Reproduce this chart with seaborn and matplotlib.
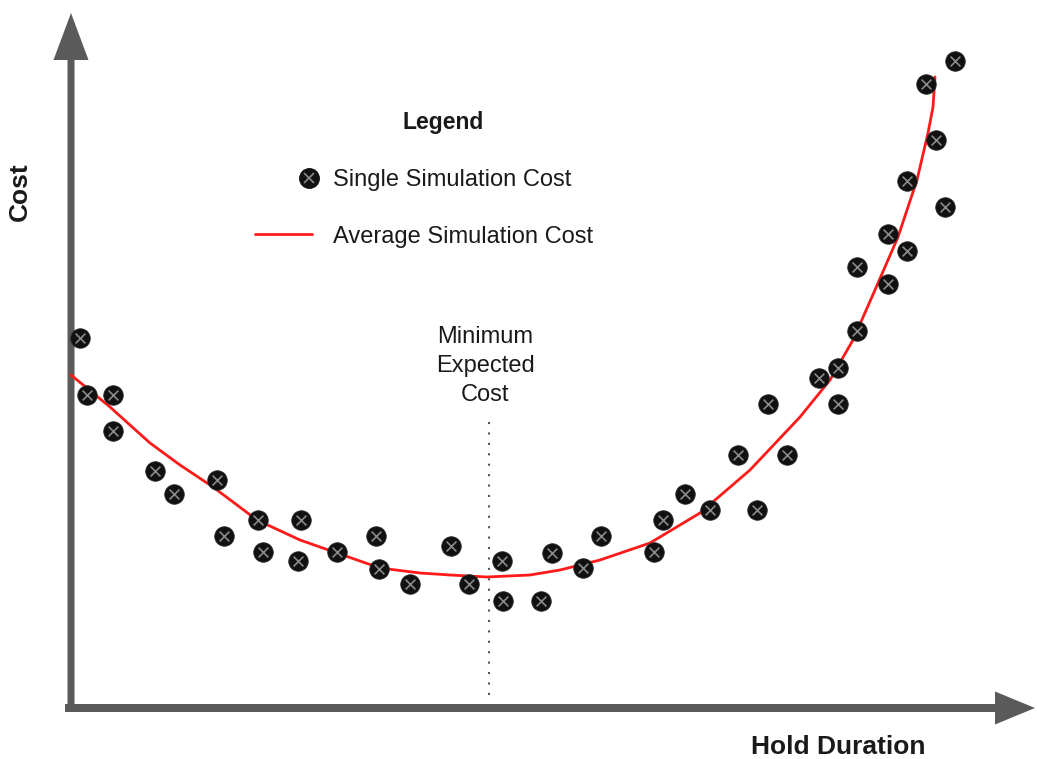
import matplotlib.pyplot as plt
import seaborn as sns
import pandas as pd
from matplotlib.lines import Line2D
from matplotlib.legend_handler import HandlerTuple, HandlerLine2D

# Einzelne Simulationen (Haltedauer, Kosten)
hold_single = [9, 16, 42, 42, 84, 103, 146, 153, 187, 192, 227, 230, 266, 305, 308,
               339, 380, 398, 431, 432, 470, 481, 512, 530, 583, 592, 614, 639, 667,
               686, 697, 716, 748, 767, 767, 786, 786, 817, 817, 836, 836, 855, 865,
               874, 884]
cost_single = [370, 313, 313, 277, 237, 214, 228, 172, 188, 156, 147, 188, 156, 172, 139,
               124, 162, 124, 147, 107, 107, 155, 140, 172, 156, 188, 214, 198, 253,
               198, 304, 253, 330, 340, 304, 377, 441, 424, 474, 457, 527, 624, 568,
               501, 647]

# Durchschnittskurve
hold_avg = [0, 39, 79, 109, 142, 186, 229, 266, 309, 349, 379, 416, 459, 489, 529,
            579, 629, 679, 729, 759, 782, 804, 827, 846, 857, 862, 864]
cost_avg = [333, 301, 265, 243, 221, 188, 168, 155, 140, 135, 133, 131, 133, 138, 148,
            165, 195, 238, 291, 328, 368, 418, 471, 528, 575, 601, 631]

# Minimum
min_hold = 418
min_cost_top = 286

df_single = pd.DataFrame({"hold": hold_single, "cost": cost_single})
df_avg = pd.DataFrame({"hold": hold_avg, "cost": cost_avg})


# Legenden-Handler: Marker nur am rechten Ende der Handle-Fläche
class RightMarker(HandlerLine2D):
    def create_artists(self, legend, orig_handle, xdescent, ydescent, width,
                       height, fontsize, trans):
        arts = super().create_artists(legend, orig_handle, xdescent, ydescent,
                                      width, height, fontsize, trans)
        for a in arts:
            a.set_markevery([1])
        return arts


sns.set_style("white")
plt.rcParams["font.family"] = ["Liberation Sans", "DejaVu Sans"]

fig = plt.figure(figsize=(10.37, 7.59), dpi=100)
ax = fig.add_axes([0, 0, 1, 1])
# 1 Einheit = 1 Pixel
ax.set_xlim(-71, 966)
ax.set_ylim(-51, 708)
ax.axis("off")

txt = "#1a1a1a"
grey = "#5a5a5a"

# Achsen als Pfeile
ax.arrow(0, -4, 0, 699, width=7, head_width=35, head_length=47,
         length_includes_head=True, color=grey, lw=0)
ax.arrow(-6, 0, 970, 0, width=8, head_width=33, head_length=40,
         length_includes_head=True, color=grey, lw=0)

# Minimum-Linie
ax.plot([min_hold, min_hold], [min_cost_top, 8], ls=(0, (1, 4)), color="#555555", lw=1.5)
ax.text(414, 342, "Minimum\nExpected\nCost", ha="center", va="center",
        fontsize=17, color=txt, linespacing=1.4)

# Durchschnittskurve
sns.lineplot(data=df_avg, x="hold", y="cost", color="#ff1a1a", lw=2, ax=ax,
             estimator=None, sort=False)

# Einzelne Simulationen: schwarzer Kreis mit Kreuz
sns.scatterplot(data=df_single, x="hold", y="cost", s=200, color="#111111",
                edgecolor="#333333", linewidth=0.5, ax=ax, zorder=3)
sns.scatterplot(data=df_single, x="hold", y="cost", s=50, marker="x",
                color="#8a8a8a", linewidth=1.2, ax=ax, zorder=4)
ax.set_xlabel("")
ax.set_ylabel("")

# Achsenbeschriftungen
ax.text(767, -39, "Hold Duration", ha="center", va="center",
        fontsize=19, fontweight="bold", color=txt)
ax.text(-51, 516, "Cost", ha="center", va="center",
        rotation=90, fontsize=19, fontweight="bold", color=txt)

# Legende
ax.text(372, 586, "Legend", ha="center", va="center", fontsize=16.5,
        fontweight="bold", color=txt)
h_circle = Line2D([], [], ls="", marker="o", ms=14, color="#111111")
h_x = Line2D([], [], ls="", marker="x", ms=7, mew=1.2, color="#8a8a8a")
h_line = Line2D([], [], color="#ff1a1a", lw=2)
leg = ax.legend([(h_circle, h_x), h_line],
                ["Single Simulation Cost", "Average Simulation Cost"],
                handler_map={tuple: HandlerTuple(ndivide=1),
                             h_circle: RightMarker(marker_pad=0.15),
                             h_x: RightMarker(marker_pad=0.15),
                             h_line: HandlerLine2D(marker_pad=0)},
                frameon=False, fontsize=17, numpoints=2,
                loc="upper left", bbox_to_anchor=(0.2459, 0.7774),
                borderaxespad=0, borderpad=0,
                handlelength=2.42, handletextpad=0.89, labelspacing=1.47)
for t in leg.get_texts():
    t.set_color(txt)

fig.savefig("out.png", dpi=100)
